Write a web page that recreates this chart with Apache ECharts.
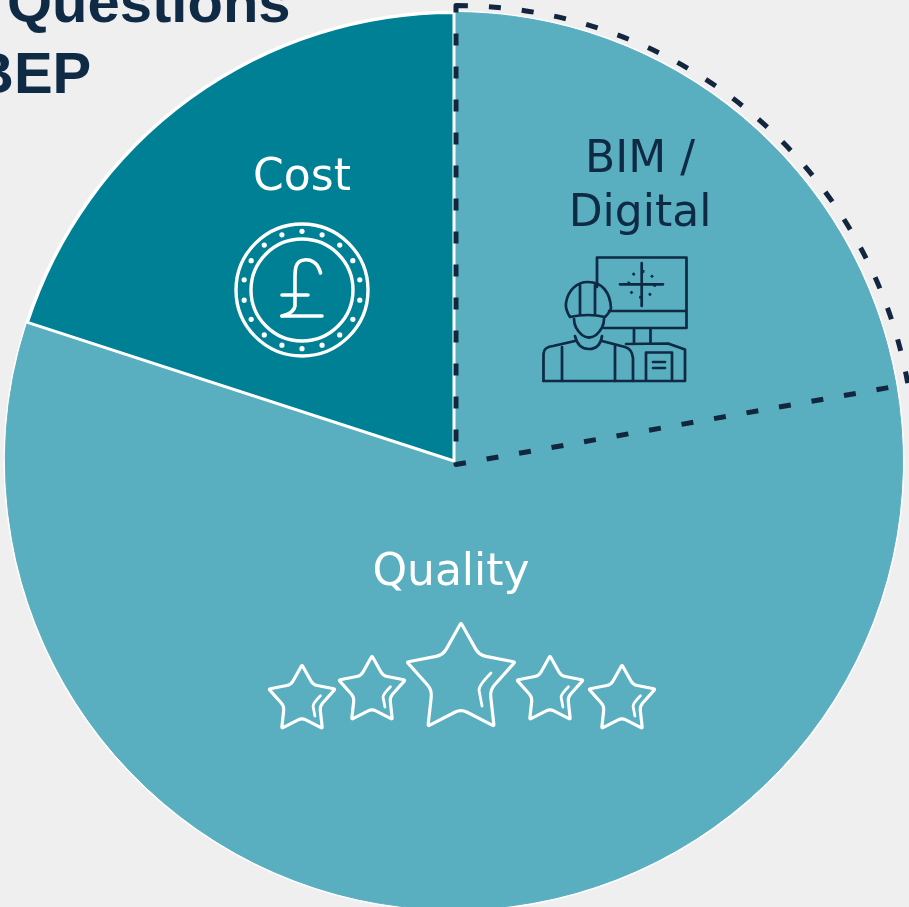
<!DOCTYPE html>
<html>
<head>
<meta charset="utf-8">
<title>BEP questions</title>
<script src="https://cdn.jsdelivr.net/npm/echarts@6/dist/echarts.min.js"></script>
<style>
  html, body { margin: 0; padding: 0; background: #efefef; }
  #chart { width: 909px; height: 907px; }
</style>
</head>
<body>
<div id="chart"></div>
<script>
// shares, clockwise from twelve o'clock
const categories = ['BIM /\nDigital', 'Quality', 'Cost'];
const shares = [22.2, 57.8, 20];
const sliceColors = ['#59aebf', '#59aebf', '#008094'];
const labelColors = ['#0e2a44', '#ffffff', '#ffffff'];
const labelSpots = [[640, 188], [451, 574], [302, 179]];
const titleLines = ['Questions', 'BEP'];

const NAVY = '#0e2a44';

// ── icons ──────────────────────────────────────────
function roundedStar(pts, tipR, innerR) {
    let d = '';
    pts.forEach((p, i) => {
        const r = i % 2 ? innerR : tipR;
        const a = pts[(i + pts.length - 1) % pts.length];
        const b = pts[(i + 1) % pts.length];
        const la = Math.hypot(a[0] - p[0], a[1] - p[1]);
        const lb = Math.hypot(b[0] - p[0], b[1] - p[1]);
        const s = [p[0] + (a[0] - p[0]) * r / la, p[1] + (a[1] - p[1]) * r / la];
        const e = [p[0] + (b[0] - p[0]) * r / lb, p[1] + (b[1] - p[1]) * r / lb];
        d += `${i ? 'L' : 'M'}${s[0]},${s[1]} Q${p[0]},${p[1]} ${e[0]},${e[1]} `;
    });
    return d + 'Z';
}

const starShape = [[0, 0], [18, 32], [54, 39], [29, 67], [33, 103], [0, 86], [-33, 103], [-29, 67], [-54, 39], [-18, 32]];
const starGlint = [[30, 50], [18, 62], [21, 83]];

function star(tx, ty, k) {
    const pts = starShape.map(p => [tx + p[0] * k, ty + p[1] * k]);
    const g = starGlint.map(p => [tx + p[0] * k, ty + p[1] * k]);
    return [
        pathEl(roundedStar(pts, 1.5, 7 * k), '#ffffff', 3.2),
        pathEl(`M${g[0][0]},${g[0][1]} Q${g[1][0]},${g[1][1]} ${g[1][0]},${g[1][1] + 5 * k} L${g[2][0]},${g[2][1]}`, '#ffffff', 2.8),
    ];
}

function pathEl(d, color, width) {
    return {
        type: 'path',
        shape: { pathData: d },
        style: { fill: 'none', stroke: color, lineWidth: width, lineCap: 'round', lineJoin: 'round' },
    };
}

function coin(cx, cy) {
    const ring = (r, w) => ({
        type: 'circle',
        shape: { cx, cy, r },
        style: { fill: 'none', stroke: '#fff', lineWidth: w },
    });
    const els = [ring(66, 3.4), ring(51, 3.4)];
    for (let i = 0; i < 18; i++) {
        const a = i * Math.PI / 9;
        els.push({
            type: 'circle',
            shape: { cx: cx + 58.7 * Math.sin(a), cy: cy - 58.7 * Math.cos(a), r: 2.6 },
            style: { fill: '#fff' },
        });
    }
    els.push(pathEl('M320.5,273 C318,262 310,259 304,260 C295,261 295,270 295,278 L295,306 Q294,313 282,316', '#fff', 3.6));
    els.push(pathEl('M282,316 L322,316 M282,295 L308,295', '#fff', 3.6));
    return els;
}

function worker() {
    const w = 2.7;
    return [
        // monitor
        pathEl('M597,287 V257.5 H686.5 V328 H604 M609,311 H686.5 M634,328 V343 M650.5,328 V343', NAVY, w),
        // desk unit
        pathEl('M626,344 L668,343.5 L685,349.5 V381 H543.5 M646,381 V352.5 H672 V381 M653,362 H665 M653,368 H665', NAVY, w),
        // shoulders and arms
        pathEl('M543.5,381 V354 Q543.5,347 553,346 L575,341 M602,341 L625,347 Q632,349 633,358 V381 M562,347 V381 M615,346 V381', NAVY, w),
        pathEl('M575,336 Q578,349 589,349 Q600,349 602,336', NAVY, w),
        // face
        pathEl('M574,319 Q574,328 582,335 Q589,340 596,335 Q604,328 604,319', NAVY, w),
        // helmet
        pathEl('M570,317 Q565,309 566,303 C568,290 577,282 588,282 C602,282 610,292 611,308 Q610,312 605,317 Q588,313 570,317 Z M580,285 V315 M595,285 V315', NAVY, w),
        // crosshair
        pathEl('M641.7,263 V306 M620,284.3 H663', NAVY, w),
        {
            type: 'circle',
            shape: { cx: 641.7, cy: 284.3, r: 13 },
            style: { fill: 'none', stroke: NAVY, lineWidth: 2.7, lineDash: [2.5, 7.7] },
        },
    ];
}

const iconEls = [
    ...coin(302, 290),
    ...worker(),
    ...star(302, 665, 0.615),
    ...star(372, 656, 0.615),
    ...star(461, 623, 1),
    ...star(550, 656, 0.615),
    ...star(622, 665, 0.615),
];

// ── chart ──────────────────────────────────────────
const chart = echarts.init(document.getElementById('chart'), null, { renderer: 'canvas' });

chart.setOption({
    animation: false,
    backgroundColor: '#efefef',
    tooltip: { show: false },
    graphic: {
        elements: [
            {
                type: 'text', z: 100, silent: true, x: 7, y: -23,
                style: { text: titleLines[0], fill: NAVY, font: 'bold 58px "Liberation Sans", Arial, sans-serif' },
            },
            {
                type: 'text', z: 100, silent: true, x: -28, y: 48,
                style: { text: titleLines[1], fill: NAVY, font: 'bold 58px "Liberation Sans", Arial, sans-serif' },
            },
        ],
    },
    series: [
        {
            // white rim round the whole pie
            type: 'pie',
            center: [454, 461],
            radius: [0, 450.5],
            silent: true,
            label: { show: false },
            labelLine: { show: false },
            data: [{ value: 1, itemStyle: { color: '#ffffff' } }],
        },
        {
            type: 'pie',
            center: [454, 461],
            radius: [0, 448.5],
            startAngle: 90,
            clockwise: true,
            silent: true,
            label: {
                show: true,
                position: 'inside',
                fontFamily: '"DejaVu Sans", sans-serif',
                fontWeight: 'normal',
                fontSize: 44,
                lineHeight: 54,
                align: 'center',
                verticalAlign: 'middle',
            },
            labelLine: { show: false },
            labelLayout: p => ({ x: labelSpots[p.dataIndex][0], y: labelSpots[p.dataIndex][1], align: 'center', verticalAlign: 'middle' }),
            data: categories.map((name, i) => ({
                name,
                value: shares[i],
                // only Cost gets the white edge, BIM and Quality run together
                itemStyle: { color: sliceColors[i], borderColor: i === 2 ? '#ffffff' : sliceColors[i], borderWidth: i === 2 ? 3 : 1 },
                label: { color: labelColors[i] },
            })),
        },
        {
            // dashed wedge sitting a little outside the pie
            type: 'pie',
            center: [456, 464.5],
            radius: [0, 459],
            startAngle: 90,
            clockwise: true,
            silent: true,
            label: { show: false },
            labelLine: { show: false },
            data: [
                { value: shares[0], itemStyle: { color: 'rgba(0,0,0,0)', borderColor: '#12263f', borderWidth: 5, borderType: [12, 21] } },
                { value: shares[1] + shares[2], itemStyle: { color: 'rgba(0,0,0,0)', borderWidth: 0 } },
            ],
        },
        {
            // icons on top of the slices
            type: 'custom',
            coordinateSystem: 'none',
            silent: true,
            z: 10,
            data: [0],
            renderItem: () => ({ type: 'group', children: iconEls }),
        },
    ],
});

window.addEventListener('resize', () => chart.resize());
</script>
</body>
</html>
